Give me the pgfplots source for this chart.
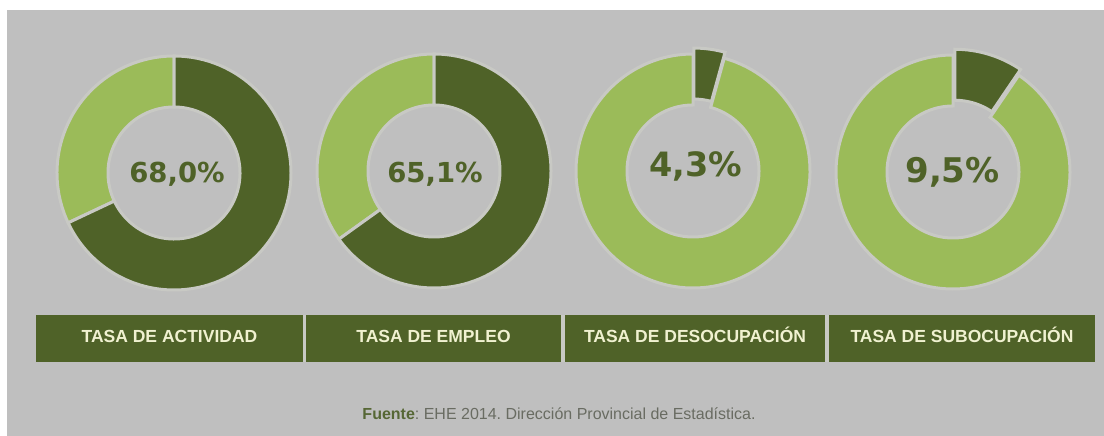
\documentclass[border=0pt]{standalone}
\usepackage{pgfplots}
\usepackage{pgfplotstable}
\pgfplotsset{compat=1.18}
\usepackage{fontspec}
\setmainfont{Liberation Sans}
\newfontfamily\pctfont{DejaVu Sans}
\frenchspacing

\definecolor{bggray}{RGB}{191,191,191}
\definecolor{darkolive}{RGB}{79,98,40}
\definecolor{lightolive}{RGB}{155,187,89}
\definecolor{gapc}{RGB}{200,201,196}
\definecolor{cream}{RGB}{240,241,208}
\definecolor{srcgray}{RGB}{105,108,98}

% donut centres and label baselines in picture pixels (y from top)
\pgfplotstableread{
cx  cy  val  ex  lx    ly  fs
174 173 68.0 0   177   183 27.5
434 171 65.1 0   435   183 27.5
693 171 4.3  6   695.5 177 33.5
953 172 9.5  6   952.5 183 34
}\donuts

\begin{document}
\begin{tikzpicture}
\begin{axis}[
  width=1104bp, height=436bp, scale only axis,
  xmin=0, xmax=1104, ymin=0, ymax=436,
  hide axis, clip=false]
  \fill[white] (axis cs:0,0) rectangle (axis cs:1104,436);
  \fill[bggray] (axis cs:7,0) rectangle (axis cs:1104,426);
  \pgfplotsinvokeforeach{0,1,2,3}{
    \pgfplotstablegetelem{#1}{cx}\of\donuts \edef\cx{\pgfplotsretval}
    \pgfplotstablegetelem{#1}{cy}\of\donuts \pgfmathsetmacro\cy{436-\pgfplotsretval}
    \pgfplotstablegetelem{#1}{val}\of\donuts \edef\val{\pgfplotsretval}
    \pgfplotstablegetelem{#1}{ex}\of\donuts \edef\ex{\pgfplotsretval}
    \pgfplotstablegetelem{#1}{lx}\of\donuts \edef\lx{\pgfplotsretval}
    \pgfplotstablegetelem{#1}{ly}\of\donuts \pgfmathsetmacro\ly{436-\pgfplotsretval}
    \pgfplotstablegetelem{#1}{fs}\of\donuts \edef\fs{\pgfplotsretval}
    \pgfmathsetmacro\ang{90-3.6*\val}
    \pgfmathsetmacro\mid{90-1.8*\val}
    \pgfmathsetmacro\dx{\cx+\ex*cos(\mid)}
    \pgfmathsetmacro\dy{\cy+\ex*sin(\mid)}
    \edef\cmd{%
      \noexpand\filldraw[fill=lightolive, draw=gapc, line width=3bp, line join=miter]
        ([shift={(\ang:117bp)}]axis cs:\cx,\cy) arc[start angle=\ang, end angle=-270, radius=117bp]
        -- ([shift={(90:66bp)}]axis cs:\cx,\cy) arc[start angle=-270, end angle=\ang, radius=66bp] -- cycle;
      \noexpand\filldraw[fill=darkolive, draw=gapc, line width=3bp, line join=miter]
        ([shift={(90:117bp)}]axis cs:\dx,\dy) arc[start angle=90, end angle=\ang, radius=117bp]
        -- ([shift={(\ang:66bp)}]axis cs:\dx,\dy) arc[start angle=\ang, end angle=90, radius=66bp] -- cycle;
      \noexpand\node[anchor=base, text=darkolive, inner sep=0pt,
        font=\noexpand\pctfont\noexpand\bfseries\noexpand\fontsize{\fs bp}{\fs bp}\noexpand\selectfont]
        at (axis cs:\lx,\ly)
        {\noexpand\pgfmathprintnumber[fixed, fixed zerofill, precision=1, use comma, assume math mode=true]{\val}\noexpand\%};
    }\cmd
  }
  % category boxes
  \fill[darkolive] (axis cs:36,74) rectangle (axis cs:303,121);
  \fill[darkolive] (axis cs:306,74) rectangle (axis cs:561,121);
  \fill[darkolive] (axis cs:565,74) rectangle (axis cs:825,121);
  \fill[darkolive] (axis cs:829,74) rectangle (axis cs:1095,121);
  \fill[gapc] (axis cs:303,74) rectangle (axis cs:306,121);
  \fill[gapc] (axis cs:561,74) rectangle (axis cs:565,121);
  \fill[gapc] (axis cs:825,74) rectangle (axis cs:829,121);
  \begin{scope}[every node/.style={anchor=base, inner sep=0pt, text=cream,
      font=\bfseries\fontsize{17.5bp}{20bp}\selectfont}]
    \node at (axis cs:169.5,93) {TASA DE ACTIVIDAD};
    \node at (axis cs:433.5,93) {TASA DE EMPLEO};
    \node at (axis cs:695,93) {TASA DE DESOCUPACIÓN};
    \node at (axis cs:962,93) {TASA DE SUBOCUPACIÓN};
  \end{scope}
  \node[anchor=base, inner sep=0pt, text=srcgray, font=\fontsize{16bp}{18bp}\selectfont]
    at (axis cs:559,17) {{\color{darkolive!85!gray}\bfseries Fuente}: EHE 2014. Dirección Provincial de Estadística.};
\end{axis}
\end{tikzpicture}
\end{document}
